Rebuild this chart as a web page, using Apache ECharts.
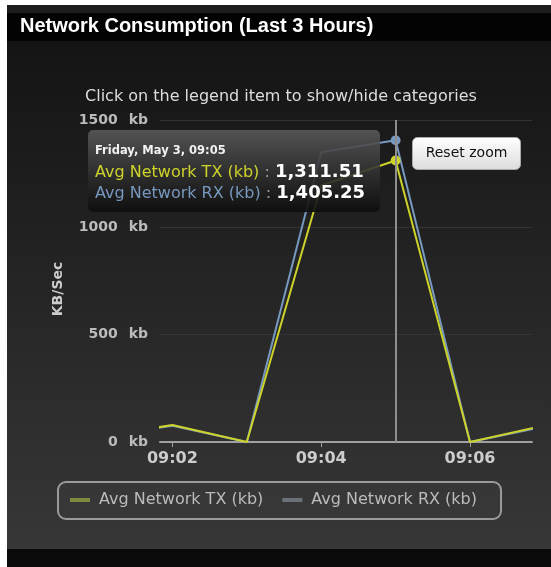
<!DOCTYPE html>
<html>
<head>
<meta charset="utf-8">
<title>Network Consumption</title>
<script src="https://cdn.jsdelivr.net/npm/echarts@6/dist/echarts.min.js"></script>
<style>
  html, body { margin: 0; padding: 0; background: #ffffff; }
  #chart { position: absolute; left: 0; top: 0; width: 551px; height: 567px; }
</style>
</head>
<body>
<div id="chart"></div>
<script>
// Sample times (one per minute) and the two averaged series, in kb/s
const times = ['09:01', '09:02', '09:03', '09:04', '09:05', '09:06', '09:07'];
const txValues = [25, 79, 0, 1195, 1311.51, 0, 77];
const rxValues = [20, 76, 0, 1350, 1405.25, 0, 72];

// Axis settings
const yTicks = [0, 500, 1000, 1500];
const xTickLabels = ['09:02', '09:04', '09:06'];
const viewStart = '09:01:50';
const viewEnd = '09:06:50';

// Hovered sample shown in the tooltip
const hoverTime = '09:05';
const hoverDay = 'Friday, May 3';

const seriesNames = ['Avg Network TX (kb)', 'Avg Network RX (kb)'];
const seriesColors = ['#cdd32a', '#7798BF'];
const legendColors = ['#7f8a3c', '#6c7078'];

const FONT = "'DejaVu Sans', Verdana, sans-serif";
const CSS_FONT = FONT.replace(/'/g, '&quot;');

// "hh:mm[:ss]" -> minutes since midnight
function toMin(t) {
  const p = t.split(':').map(Number);
  return p[0] * 60 + p[1] + (p[2] || 0) / 60;
}
function fmtTime(m) {
  const h = Math.floor(m / 60);
  const mm = Math.round(m - h * 60);
  return String(h).padStart(2, '0') + ':' + String(mm).padStart(2, '0');
}
function fmtNum(v) {
  return v.toLocaleString('en-US', { minimumFractionDigits: 2, maximumFractionDigits: 2 });
}

const hoverIdx = times.indexOf(hoverTime);

function buildData(values, color) {
  return times.map((t, i) => {
    const item = { value: [toMin(t), values[i]] };
    if (i === hoverIdx) {
      item.symbol = 'circle';
      item.symbolSize = 9;
      item.itemStyle = { color: color, borderColor: color, borderWidth: 0 };
    }
    return item;
  });
}

const chart = echarts.init(document.getElementById('chart'), null, { renderer: 'canvas' });

const option = {
  animation: false,
  backgroundColor: {
    type: 'linear', x: 0, y: 0, x2: 0, y2: 1,
    colorStops: [
      { offset: 0.07, color: '#141414' },
      { offset: 0.97, color: '#373737' }
    ]
  },
  title: [
    {
      text: 'Network Consumption (Last 3 Hours)',
      left: 20, top: 16, padding: 0,
      textStyle: { color: '#ffffff', fontSize: 20, fontWeight: 'bold', fontFamily: "'Liberation Sans', Arial, sans-serif" }
    },
    {
      text: 'Click on the legend item to show/hide categories',
      left: 281, top: 89, padding: 0, textAlign: 'center',
      textStyle: { color: '#dddddd', fontSize: 16, fontWeight: 'normal', fontFamily: FONT }
    }
  ],
  graphic: [
    { type: 'rect', silent: true, z: -10, shape: { x: 0, y: 0, width: 7, height: 567 }, style: { fill: '#ffffff' } },
    { type: 'rect', silent: true, z: -10, shape: { x: 0, y: 0, width: 551, height: 5 }, style: { fill: '#ffffff' } },
    { type: 'rect', silent: true, z: -10, shape: { x: 7, y: 5, width: 544, height: 8 }, style: { fill: '#1d1d1d' } },
    { type: 'rect', silent: true, z: -10, shape: { x: 7, y: 13, width: 544, height: 28 }, style: { fill: '#030303' } },
    { type: 'rect', silent: true, z: -10, shape: { x: 7, y: 549, width: 544, height: 18 }, style: { fill: '#0a0a0a' } },
    {
      type: 'text', x: 58, y: 289, rotation: Math.PI / 2,
      style: { text: 'KB/Sec', fill: '#cccccc', font: 'bold 14px ' + FONT, align: 'center', verticalAlign: 'middle' }
    },
    {
      type: 'group', left: 412, top: 137,
      children: [
        {
          type: 'rect',
          shape: { x: 0, y: 0, width: 108, height: 32, r: 5 },
          style: {
            fill: { type: 'linear', x: 0, y: 0, x2: 0, y2: 1, colorStops: [{ offset: 0, color: '#ffffff' }, { offset: 1, color: '#dcdcdc' }] },
            stroke: '#aaaaaa', lineWidth: 1
          }
        },
        {
          type: 'text', x: 54, y: 16,
          style: { text: 'Reset zoom', fill: '#111111', font: '14px ' + FONT, align: 'center', verticalAlign: 'middle' }
        }
      ]
    }
  ],
  legend: {
    left: 58, top: 482,
    padding: [10, 24, 11, 12],
    itemGap: 19,
    itemWidth: 20, itemHeight: 4,
    icon: 'rect',
    borderColor: '#9a9a9a', borderWidth: 2, borderRadius: 8,
    backgroundColor: 'rgba(255,255,255,0.02)',
    textStyle: { color: '#bbbbbb', fontSize: 16, fontFamily: FONT, padding: [0, 0, 0, 4] },
    data: seriesNames.map((n, i) => ({ name: n, itemStyle: { color: legendColors[i] } }))
  },
  tooltip: {
    trigger: 'axis',
    alwaysShowContent: true,
    transitionDuration: 0,
    showDelay: 0,
    axisPointer: { type: 'none' },
    position: [88, 130],
    backgroundColor: 'transparent',
    borderWidth: 0,
    padding: 0,
    extraCssText: 'box-shadow:none;border-radius:5px;background:linear-gradient(rgba(90,90,90,0.88),rgba(14,14,14,0.92));padding:9px 10px 9px 7px;width:275px;',
    formatter: function (params) {
      let html = '<div style="font:bold 11.5px ' + CSS_FONT + ';color:#f2f2f2;line-height:22px;">' +
        hoverDay + ', ' + fmtTime(params[0].value[0]) + '</div>';
      params.forEach(p => {
        html += '<div style="line-height:20px;white-space:nowrap;font-family:' + CSS_FONT + ';">' +
          '<span style="color:' + seriesColors[p.seriesIndex] + ';font-size:16px;">' + p.seriesName + '</span>' +
          '<span style="color:#9a9a9a;font-size:16px;"> :&nbsp;</span>' +
          '<span style="color:#ffffff;font-size:18px;font-weight:bold;">' + fmtNum(p.value[1]) + '</span></div>';
      });
      return html;
    }
  },
  grid: { left: 160, right: 19, top: 120, bottom: 125, containLabel: false },
  xAxis: {
    type: 'value',
    min: toMin(viewStart),
    max: toMin(viewEnd),
    splitLine: { show: false },
    axisLine: { show: true, lineStyle: { color: '#a0a0a0', width: 2 } },
    axisTick: { show: true, customValues: xTickLabels.map(toMin), length: 5, lineStyle: { color: '#a0a0a0', width: 1 } },
    axisLabel: {
      customValues: xTickLabels.map(toMin),
      formatter: v => fmtTime(v),
      color: '#cccccc', fontSize: 16, fontWeight: 'bold', fontFamily: FONT, margin: 9
    }
  },
  yAxis: {
    type: 'value',
    min: yTicks[0], max: yTicks[yTicks.length - 1], interval: yTicks[1] - yTicks[0],
    axisLine: { show: false },
    axisTick: { show: false },
    splitLine: { show: true, lineStyle: { color: '#343434', width: 1 } },
    axisLabel: {
      margin: 12,
      formatter: v => '{n|' + v + '}{u| kb}',
      rich: {
        n: { color: '#bbbbbb', fontSize: 14, fontWeight: 'bold', fontFamily: FONT },
        u: { color: '#bbbbbb', fontSize: 14, fontWeight: 'bold', fontFamily: FONT, padding: [0, 0, 0, 6] }
      }
    }
  },
  series: [
    {
      name: seriesNames[0],
      type: 'line',
      data: buildData(txValues, seriesColors[0]),
      showSymbol: true,
      symbol: 'none',
      color: seriesColors[0],
      lineStyle: { color: seriesColors[0], width: 2 },
      emphasis: { disabled: true },
      z: 3,
      markLine: {
        silent: true,
        symbol: ['none', 'none'],
        label: { show: false },
        lineStyle: { color: '#8e8e8e', width: 2, type: 'solid' },
        emphasis: { disabled: true },
        data: [{ xAxis: toMin(hoverTime) }]
      }
    },
    {
      name: seriesNames[1],
      type: 'line',
      data: buildData(rxValues, seriesColors[1]),
      showSymbol: true,
      symbol: 'none',
      color: seriesColors[1],
      lineStyle: { color: seriesColors[1], width: 2 },
      emphasis: { disabled: true },
      z: 2
    }
  ]
};

chart.setOption(option);
chart.dispatchAction({ type: 'showTip', seriesIndex: 0, dataIndex: hoverIdx });
</script>
</body>
</html>
